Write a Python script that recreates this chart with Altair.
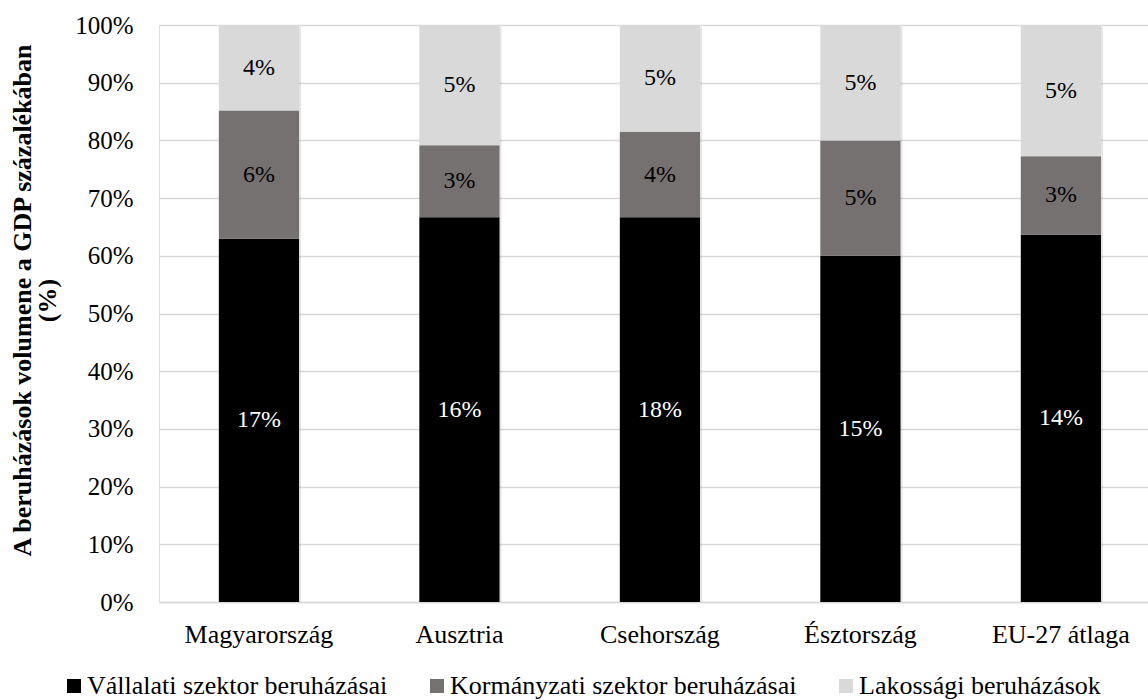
import altair as alt
import pandas as pd

# Investment volume by sector, % of GDP
countries = ["Magyarország", "Ausztria", "Csehország", "Észtország", "EU-27 átlaga"]
sectors = ["Vállalati szektor beruházásai", "Kormányzati szektor beruházásai", "Lakossági beruházások"]
corporate = [17, 16, 18, 15, 14]
government = [6, 3, 4, 5, 3]
household = [4, 5, 5, 5, 5]
sector_colors = ["#000000", "#767171", "#D9D9D9"]
y_ticks = [0, 0.1, 0.2, 0.3, 0.4, 0.5, 0.6, 0.7, 0.8, 0.9, 1.0]

rows = []
for i, c in enumerate(countries):
    for k, (s, vals) in enumerate(zip(sectors, [corporate, government, household])):
        rows.append({"country": c, "sector": s, "idx": k, "value": vals[i],
                     "label": f"{vals[i]}%"})
df = pd.DataFrame(rows)

FONT = "Liberation Serif"

x_enc = alt.X(
    "country:N",
    sort=countries,
    scale=alt.Scale(paddingInner=0.6, paddingOuter=0.2665, align=0.56),
    axis=alt.Axis(title=None, labelAngle=0, labelFont=FONT, labelFontSize=26,
                  labelColor="#000000", labelPadding=19, ticks=False,
                  domainColor="#D9D9D9", domainWidth=1.5),
)

base = alt.Chart(df)

# soft drop shadow behind each full column
shadow = base.transform_aggregate(
    total="sum(value)", groupby=["country"]
).transform_calculate(top="1").mark_bar(
    color="#000000", opacity=0.10, xOffset=2, yOffset=2
).encode(
    x=x_enc,
    y=alt.Y("top:Q", stack=None),
)

bars = base.mark_bar().encode(
    x=x_enc,
    y=alt.Y(
        "value:Q",
        stack="normalize",
        scale=alt.Scale(domain=[0, 1]),
        axis=alt.Axis(
            values=y_ticks, format=".0%", labelFont=FONT, labelFontSize=25,
            labelColor="#000000", labelPadding=26, ticks=False, domain=False,
            gridColor="#D9D9D9", gridWidth=1.5,
            title=["A beruházások volumene a GDP százalékában", "(%)"],
            titleFont=FONT, titleFontSize=26, titleFontWeight="bold",
            titleColor="#000000", titleAngle=-90, titleAlign="center",
            titleBaseline="alphabetic", titleLineHeight=25,
            titleX=-129, titleY=275,
        ),
    ),
    color=alt.Color(
        "sector:N",
        sort=sectors,
        scale=alt.Scale(domain=sectors, range=sector_colors),
        legend=alt.Legend(
            title=None, orient="none", direction="horizontal",
            legendX=-98, legendY=648, symbolType="square", symbolSize=196,
            symbolStrokeWidth=0, labelFont=FONT, labelFontSize=26,
            labelColor="#000000", labelOffset=0, columnPadding=36,
            labelLimit=0,
        ),
    ),
    order=alt.Order("idx:Q", sort="ascending"),
)

labels = base.transform_stack(
    stack="value", groupby=["country"], as_=["v0", "v1"],
    sort=[alt.SortField("idx", order="ascending")], offset="normalize",
).transform_calculate(
    mid="(datum.v0 + datum.v1) / 2"
).mark_text(font=FONT, fontSize=24, baseline="middle", align="center").encode(
    x=x_enc,
    y=alt.Y("mid:Q"),
    text="label:N",
    color=alt.condition(alt.datum.idx == 0, alt.value("#FFFFFF"), alt.value("#000000")),
)

chart = alt.layer(shadow, bars, labels).properties(
    width=989, height=577,
    autosize=alt.AutoSizeParams(type="none"),
    padding={"left": 159, "top": 25, "right": 0, "bottom": 98},
).configure_view(stroke=None).configure(background="#FFFFFF")

chart.save("out.html", embed_options={"renderer": "svg", "actions": False})
